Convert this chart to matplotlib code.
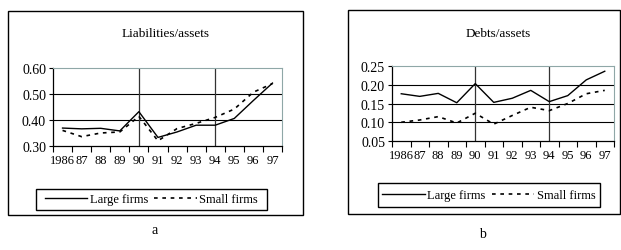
import matplotlib
matplotlib.use("Agg")
import matplotlib.pyplot as plt
from matplotlib.patches import Rectangle
from matplotlib.lines import Line2D

years = ["1986", "87", "88", "89", "90", "91", "92", "93", "94", "95", "96", "97"]
liab_large = [0.369, 0.366, 0.368, 0.358, 0.432, 0.333, 0.354, 0.380, 0.380, 0.406, 0.475, 0.542]
liab_small = [0.360, 0.336, 0.350, 0.354, 0.414, 0.320, 0.367, 0.387, 0.410, 0.442, 0.507, 0.540]
debt_large = [0.176, 0.169, 0.177, 0.152, 0.203, 0.153, 0.164, 0.185, 0.155, 0.171, 0.213, 0.236]
debt_small = [0.100, 0.106, 0.115, 0.098, 0.124, 0.095, 0.118, 0.140, 0.131, 0.150, 0.176, 0.185]
event_years = ["90", "94"]

plt.rcParams['font.family'] = ['Liberation Serif', 'DejaVu Serif']

W, H = 621, 251
fig = plt.figure(figsize=(W / 100, H / 100), dpi=100)

def fx(px):
    return px / W

def fy(py):
    return 1 - py / H

def box(x0, y0, x1, y1):
    fig.patches.append(Rectangle((fx(x0), fy(y1)), fx(x1) - fx(x0), fy(y0) - fy(y1),
                                 transform=fig.transFigure, fill=False, edgecolor='black',
                                 linewidth=1.0))

dots = (0, (2.2, 2.8))

def panel(ax_rect, ylim, yticks, large, small, title, title_xy, frame, legbox, cap, cap_xy):
    x0, y0, x1, y1 = ax_rect
    ax = fig.add_axes([fx(x0), fy(y1), fx(x1) - fx(x0), fy(y0) - fy(y1)])
    xs = list(range(len(years)))
    ax.plot(xs, large, color='black', lw=1.0)
    ax.plot(xs, small, color='black', lw=1.2, linestyle=dots)
    ax.set_xlim(-0.5, len(years) - 0.5)
    ax.set_ylim(*ylim)
    ax.set_yticks(yticks)
    ax.set_yticklabels([f"{v:.2f}" for v in yticks])
    for v in yticks[1:-1]:
        ax.axhline(v, color='black', lw=0.8, zorder=0)
    for ey in event_years:
        ax.axvline(years.index(ey), color='#333333', lw=0.9, zorder=0)
    ax.set_xticks([i - 0.5 for i in range(len(years) + 1)])
    ax.set_xticklabels([])
    ax.set_xticks(xs, minor=True)
    ax.set_xticklabels(years, minor=True)
    ax.tick_params(axis='x', which='major', direction='out', length=4, width=0.8)
    ax.tick_params(axis='x', which='minor', length=0, pad=6, labelsize=9)
    ax.tick_params(axis='y', direction='out', length=3, width=0.8, labelsize=10, pad=2)
    for s in ['top', 'right']:
        ax.spines[s].set_color('#8fa7a7')
        ax.spines[s].set_linewidth(0.8)
    for s in ['left', 'bottom']:
        ax.spines[s].set_color('black')
        ax.spines[s].set_linewidth(0.9)
    fig.text(fx(title_xy[0]), fy(title_xy[1]), title, ha='center', va='center', fontsize=9.5)
    box(*frame)
    lx0, ly0, lx1, ly1 = legbox
    handles = [Line2D([], [], color='black', lw=1.0),
               Line2D([], [], color='black', lw=1.2, linestyle=dots)]
    fig.legend(handles, ["Large firms", "Small firms"], ncol=2,
               loc='center', bbox_to_anchor=(fx((lx0 + lx1) / 2), fy((ly0 + ly1) / 2)),
               frameon=False, fontsize=9, handlelength=3.4, handletextpad=0.2,
               columnspacing=0.5, borderpad=0)
    box(lx0, ly0, lx1, ly1)
    fig.text(fx(cap_xy[0]), fy(cap_xy[1]), cap, ha='center', va='center', fontsize=10)
    return ax

panel((53, 69, 282, 147), (0.30, 0.60), [0.30, 0.40, 0.50, 0.60], liab_large, liab_small,
      "Liabilities/assets", (166, 34), (8, 12, 303, 216), (36, 190, 267, 211), "a", (155, 231))
panel((392, 67, 614, 142), (0.05, 0.25), [0.05, 0.10, 0.15, 0.20, 0.25], debt_large, debt_small,
      "Debts/assets", (498, 34), (348, 11, 620, 215), (378, 184, 600, 208), "b", (482, 235))

fig.savefig("out.png", dpi=100)
